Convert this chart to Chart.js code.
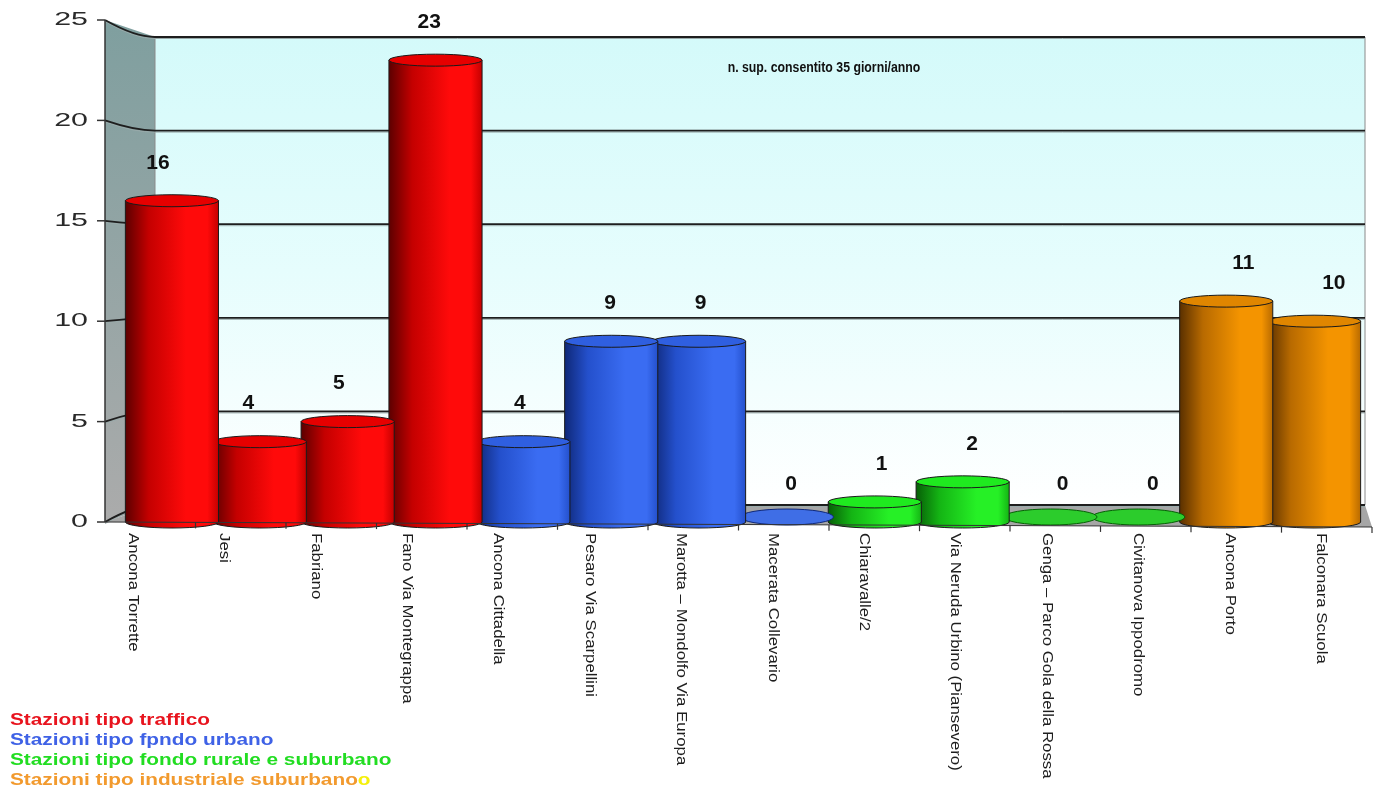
<!DOCTYPE html>
<html>
<head>
<meta charset="utf-8">
<script src="https://cdn.jsdelivr.net/npm/chart.js@4/dist/chart.umd.min.js"></script>
<style>
  body { margin: 0; background: #fff; }
  #wrap { position: relative; width: 1381px; height: 791px; }
  .legend { position: absolute; left: 10px; top: 710px; font: bold 16px "Liberation Sans", Arial, sans-serif;
            line-height: 20px; transform: scaleX(1.3); transform-origin: 0 0; white-space: nowrap; }
</style>
</head>
<body>
<div id="wrap">
  <canvas id="chart" width="1381" height="791"></canvas>
  <div class="legend" id="legend"></div>
</div>
<script>
// stations and exceedance days
const labels = ['Ancona Torrette', 'Jesi', 'Fabriano', 'Fano Via Montegrappa', 'Ancona Cittadella',
  'Pesaro Via Scarpellini', 'Marotta \u2013 Mondolfo Via Europa', 'Macerata Collevario', 'Chiaravalle/2',
  'Via Neruda Urbino (Piansevero)', 'Genga \u2013 Parco Gola della Rossa', 'Civitanova Ippodromo',
  'Ancona Porto', 'Falconara Scuola'];
const values = [16, 4, 5, 23, 4, 9, 9, 0, 1, 2, 0, 0, 11, 10];
const stationType = [0, 0, 0, 0, 1, 1, 1, 1, 2, 2, 2, 2, 3, 3];
const typeNames = ['Stazioni tipo traffico', 'Stazioni tipo fpndo urbano',
  'Stazioni tipo fondo rurale e suburbano', 'Stazioni tipo industriale suburbano'];
const yTicks = [0, 5, 10, 15, 20, 25];
const noteText = 'n. sup. consentito 35 giorni/anno';

const palette = [
  { dark: '#5c0000', mid: '#c40000', light: '#ff0a0a', top: '#e60000', flat: '#f01010', text: '#e8141e' },
  { dark: '#0f2878', mid: '#2450cc', light: '#3a6cf2', top: '#2f5fe0', flat: '#3f6ee6', text: '#3f62e6' },
  { dark: '#075f07', mid: '#14b414', light: '#26f026', top: '#1fea1f', flat: '#2ccc2c', text: '#22dd22' },
  { dark: '#5a3000', mid: '#b86a00', light: '#f49400', top: '#e08600', flat: '#f09000', text: '#f29a2e' }
];

// legend as html text
const legendEl = document.getElementById('legend');
typeNames.forEach((name, i) => {
  const d = document.createElement('div');
  d.style.color = palette[i].text;
  d.textContent = name;
  if (i === 3) {
    const o = document.createElement('span');
    o.style.color = '#f5f00a';
    o.textContent = 'o';
    d.appendChild(o);
  }
  legendEl.appendChild(d);
});

const FONT = '"Liberation Sans", Arial, sans-serif';

const scene = {
  id: 'scene',
  beforeDatasetsDraw(chart) {
    const c = chart.ctx, y = chart.scales.y, area = chart.chartArea;
    const ax = area.left - 23;          // front axis
    const bl = ax + 50, br = area.right + 7;
    const f0 = y.getPixelForValue(0), fT = y.getPixelForValue(25);
    const b0 = f0 - 17, bT = fT + 17;
    const back = v => b0 + (y.getPixelForValue(v) - f0) * (b0 - bT) / (f0 - fT);
    c.save();
    // side wall
    let g = c.createLinearGradient(0, fT, 0, f0);
    g.addColorStop(0, '#7f9f9f'); g.addColorStop(1, '#ababab');
    c.fillStyle = g;
    c.beginPath(); c.moveTo(ax, fT); c.lineTo(bl, bT); c.lineTo(bl, b0); c.lineTo(ax, f0); c.closePath(); c.fill();
    // back wall
    g = c.createLinearGradient(0, bT, 0, b0);
    g.addColorStop(0, '#d4fafa'); g.addColorStop(0.5, '#e6fdfd'); g.addColorStop(1, '#ffffff');
    c.fillStyle = g;
    c.fillRect(bl, bT, br - bl, b0 - bT);
    c.strokeStyle = '#8a8a8a'; c.lineWidth = 1;
    c.beginPath(); c.moveTo(br, bT); c.lineTo(br, b0); c.stroke();
    c.beginPath(); c.moveTo(bl, bT); c.lineTo(bl, b0); c.stroke();
    // floor
    c.fillStyle = '#a6a6a6';
    c.beginPath(); c.moveTo(ax, f0); c.lineTo(bl, b0); c.lineTo(br, b0); c.lineTo(br + 7, f0 + 5); c.closePath(); c.fill();
    // grid lines
    yTicks.forEach(v => {
      const yf = y.getPixelForValue(v), yb = back(v);
      c.strokeStyle = '#9aa'; c.lineWidth = 1;
      c.beginPath(); c.moveTo(ax, yf + 1.5); c.quadraticCurveTo(ax + 30, yb + 2, bl, yb + 1.5); c.lineTo(br, yb + 1.5); c.stroke();
      c.strokeStyle = '#1e1e1e'; c.lineWidth = 1.8;
      c.beginPath(); c.moveTo(ax, yf); c.quadraticCurveTo(ax + 30, yb, bl, yb); c.lineTo(br, yb); c.stroke();
    });
    // note
    c.fillStyle = '#111';
    c.font = 'bold 15px ' + FONT;
    c.textAlign = 'center'; c.textBaseline = 'middle';
    c.save();
    c.translate(824, 68);
    c.scale(0.82, 1);
    c.fillText(noteText, 0, 0);
    c.restore();
    c.restore();
  },
  afterDatasetsDraw(chart) {
    const c = chart.ctx, y = chart.scales.y, area = chart.chartArea;
    const meta = chart.getDatasetMeta(0);
    const ax = area.left - 23;
    const f0 = y.getPixelForValue(0);
    const fr = area.right + 14;
    c.save();
    // cylinders, right to left so the left ones sit in front
    for (let i = meta.data.length - 1; i >= 0; i--) {
      const el = meta.data[i], p = palette[stationType[i]];
      const cx = el.x, rx = el.width * 1.06 / 2, ry = 6, yt = el.y, yb = el.base;
      const g = c.createLinearGradient(cx - rx, 0, cx + rx, 0);
      g.addColorStop(0, p.dark); g.addColorStop(0.25, p.mid); g.addColorStop(0.65, p.light);
      g.addColorStop(0.88, p.light); g.addColorStop(1, p.mid);
      c.lineWidth = 1; c.strokeStyle = '#1a1a1a';
      if (values[i] > 0) {
        c.fillStyle = g;
        c.beginPath();
        c.moveTo(cx - rx, yt); c.lineTo(cx - rx, yb);
        c.ellipse(cx, yb, rx, ry, 0, Math.PI, 0, true);
        c.lineTo(cx + rx, yt); c.closePath();
        c.fill(); c.stroke();
        c.fillStyle = p.top;
        c.beginPath(); c.ellipse(cx, yt, rx, ry, 0, 0, Math.PI * 2); c.fill(); c.stroke();
      } else {
        c.fillStyle = p.flat;
        c.beginPath(); c.ellipse(cx, yb - 5, rx, 8, 0, 0, Math.PI * 2); c.fill();
        c.strokeStyle = p.dark; c.stroke();
      }
    }
    // value labels
    c.fillStyle = '#111';
    c.font = 'bold 21px ' + FONT;
    c.textAlign = 'center'; c.textBaseline = 'middle';
    meta.data.forEach((el, i) => {
      c.fillText(String(values[i]), el.x - 14 + 2.6 * i, el.y - 38);
    });
    // front floor edge and x ticks
    c.strokeStyle = '#333'; c.lineWidth = 1.2;
    c.beginPath(); c.moveTo(ax, f0); c.lineTo(fr, f0 + 5); c.stroke();
    const n = meta.data.length;
    for (let k = 1; k <= n; k++) {
      const tx = ax + k * (fr - ax) / n;
      const ty = f0 + 5 * k / n;
      c.beginPath(); c.moveTo(tx, ty); c.lineTo(tx, ty + 6); c.stroke();
    }
    // x labels, rotated clockwise
    c.fillStyle = '#1e1e1e';
    c.font = '15px ' + FONT;
    c.textAlign = 'left'; c.textBaseline = 'middle';
    meta.data.forEach((el, i) => {
      c.save();
      c.translate(el.x - 39 + 3.54 * i, 533);
      c.rotate(Math.PI / 2);
      c.scale(1.12, 1);
      c.fillText(labels[i], 0, 0);
      c.restore();
    });
    // y axis
    c.strokeStyle = '#333'; c.lineWidth = 1.5;
    c.beginPath(); c.moveTo(ax, y.getPixelForValue(25)); c.lineTo(ax, f0); c.stroke();
    c.fillStyle = '#2a2a2a';
    c.font = '19px ' + FONT;
    c.textAlign = 'right';
    yTicks.forEach(v => {
      const yy = y.getPixelForValue(v);
      c.beginPath(); c.moveTo(ax - 8, yy); c.lineTo(ax, yy); c.stroke();
      c.save();
      c.translate(88, yy);
      c.scale(1.6, 1);
      c.fillText(String(v), 0, 0);
      c.restore();
    });
    c.restore();
  }
};

new Chart(document.getElementById('chart').getContext('2d'), {
  type: 'bar',
  data: {
    labels: labels,
    datasets: [{ data: values, backgroundColor: 'rgba(0,0,0,0)', borderWidth: 0, barPercentage: 1, categoryPercentage: 1 }]
  },
  options: {
    responsive: false,
    animation: false,
    layout: { padding: { top: 20, right: 23, bottom: 0, left: 0 } },
    plugins: { legend: { display: false }, tooltip: { enabled: false } },
    scales: {
      x: { grid: { display: false }, border: { display: false }, ticks: { display: false },
           afterFit: s => { s.height = 269; } },
      y: { min: 0, max: 25, grid: { display: false }, border: { display: false },
           ticks: { display: false, stepSize: 5 }, afterFit: s => { s.width = 128; } }
    }
  },
  plugins: [scene]
});
</script>
</body>
</html>
